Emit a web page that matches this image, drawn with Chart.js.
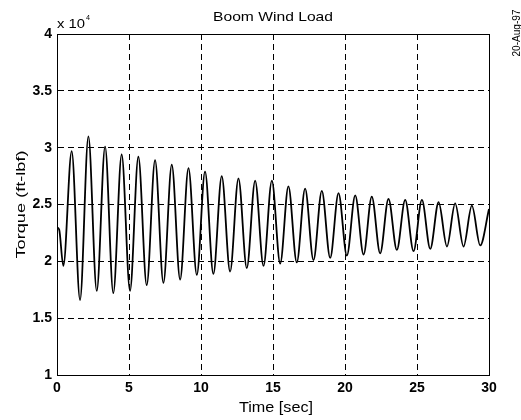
<!DOCTYPE html>
<html>
<head>
<meta charset="utf-8">
<title>Boom Wind Load</title>
<script src="https://cdn.jsdelivr.net/npm/chart.js@4.4.0/dist/chart.umd.min.js"></script>
<style>
    html, body { margin: 0; padding: 0; background: #ffffff; }
    #wrap { width: 521px; height: 420px; position: relative; }
</style>
</head>
<body>
<div id="wrap"><canvas id="torque-chart"></canvas></div>
<script>
// Boom wind load - torque vs time (torque in units of 10^4 ft-lbf)

// Time of each turning point of the trace [sec]
const timeSec = [
    0, 0.15, 0.44, 1.02, 1.60, 2.18, 2.76, 3.34, 3.91, 4.49,
    5.07, 5.65, 6.23, 6.81, 7.39, 7.97, 8.55, 9.13, 9.71, 10.28,
    10.86, 11.44, 12.02, 12.60, 13.18, 13.76, 14.34, 14.92, 15.50, 16.07,
    16.65, 17.23, 17.81, 18.39, 18.97, 19.55, 20.13, 20.71, 21.29, 21.86,
    22.44, 23.02, 23.60, 24.18, 24.76, 25.34, 25.92, 26.50, 27.08, 27.65,
    28.23, 28.81, 29.39, 30.00
];

// Torque at those times (x 10^4 ft-lbf)
const torque = [
    2.30, 2.28, 1.96, 2.97, 1.66, 3.10, 1.74, 3.01, 1.72, 2.94,
    1.74, 2.92, 1.79, 2.89, 1.81, 2.85, 1.84, 2.82, 1.88, 2.79,
    1.89, 2.75, 1.91, 2.73, 1.94, 2.71, 1.96, 2.71, 1.98, 2.66,
    1.99, 2.64, 2.01, 2.62, 2.03, 2.60, 2.05, 2.58, 2.06, 2.57,
    2.07, 2.55, 2.10, 2.54, 2.09, 2.54, 2.11, 2.52, 2.13, 2.51,
    2.13, 2.49, 2.14, 2.46
];

// Axis ranges / ticks
const xTicks = [0, 5, 10, 15, 20, 25, 30];
const yTicks = [1, 1.5, 2, 2.5, 3, 3.5, 4];

const FONT = '"Liberation Sans", Arial, Helvetica, sans-serif';

// Draw text centred on (x, y) baseline, stretched to a given width
function drawStretched(ctx, text, x, y, size, width, angle) {
    ctx.save();
    ctx.font = size + 'px ' + FONT;
    ctx.fillStyle = '#000000';
    ctx.translate(x, y);
    if (angle) ctx.rotate(angle);
    const sx = width / ctx.measureText(text).width;
    ctx.scale(sx, 1);
    ctx.textAlign = 'center';
    ctx.textBaseline = 'alphabetic';
    ctx.fillText(text, 0, 0);
    ctx.restore();
}

// Plugin: solid axes box plus the MATLAB style labels
const matlabFrame = {
    id: 'matlabFrame',
    afterDraw(chart) {
        const ctx = chart.ctx;
        const a = chart.chartArea;

        ctx.save();
        ctx.strokeStyle = '#000000';
        ctx.lineWidth = 1;
        ctx.strokeRect(a.left + 0.5, a.top + 0.5, a.right - a.left, a.bottom - a.top);
        ctx.restore();

        const cx = (a.left + a.right) / 2;
        drawStretched(ctx, 'Boom Wind Load', cx, 21, 13, 120);
        drawStretched(ctx, 'Time [sec]', cx + 3, 412, 14, 74);
        drawStretched(ctx, 'Torque (ft-lbf)', 25, (a.top + a.bottom) / 2, 13, 108, -Math.PI / 2);
        drawStretched(ctx, '20-Aug-97', 520, 33, 11, 47, -Math.PI / 2);

        // exponent label
        drawStretched(ctx, 'x 10', a.left + 14, 28, 13, 28);
        drawStretched(ctx, '4', a.left + 31, 20, 8, 4);
    }
};

const points = timeSec.map((t, i) => ({ x: t, y: torque[i] }));

const tickFont = { family: FONT, size: 14, weight: 'bold' };

new Chart(document.getElementById('torque-chart'), {
    type: 'line',
    data: {
        datasets: [{
            label: 'Torque',
            data: points,
            borderColor: '#000000',
            borderWidth: 1.8,
            pointRadius: 0,
            fill: false,
            cubicInterpolationMode: 'monotone'
        }]
    },
    options: {
        responsive: true,
        maintainAspectRatio: false,
        animation: false,
        layout: {
            padding: { top: 34, right: 32, left: 0, bottom: 0 }
        },
        plugins: {
            legend: { display: false },
            title: { display: false },
            tooltip: { enabled: false }
        },
        scales: {
            x: {
                type: 'linear',
                min: xTicks[0],
                max: xTicks[xTicks.length - 1],
                afterBuildTicks: scale => {
                    scale.ticks = xTicks.map(v => ({ value: v }));
                },
                afterFit: scale => { scale.height = 45; },
                grid: {
                    color: '#000000',
                    lineWidth: 1,
                    drawTicks: false
                },
                border: { display: true, color: '#000000', dash: [6, 4] },
                ticks: {
                    color: '#000000',
                    font: tickFont,
                    padding: 5,
                    maxRotation: 0,
                    callback: value => String(value)
                }
            },
            y: {
                min: yTicks[0],
                max: yTicks[yTicks.length - 1],
                afterBuildTicks: scale => {
                    scale.ticks = yTicks.map(v => ({ value: v }));
                },
                afterFit: scale => { scale.width = 57; },
                grid: {
                    color: '#000000',
                    lineWidth: 1,
                    drawTicks: false
                },
                border: { display: true, color: '#000000', dash: [6, 4] },
                ticks: {
                    color: '#000000',
                    font: tickFont,
                    padding: 5,
                    callback: value => String(value)
                }
            }
        }
    },
    plugins: [matlabFrame]
});
</script>
</body>
</html>
